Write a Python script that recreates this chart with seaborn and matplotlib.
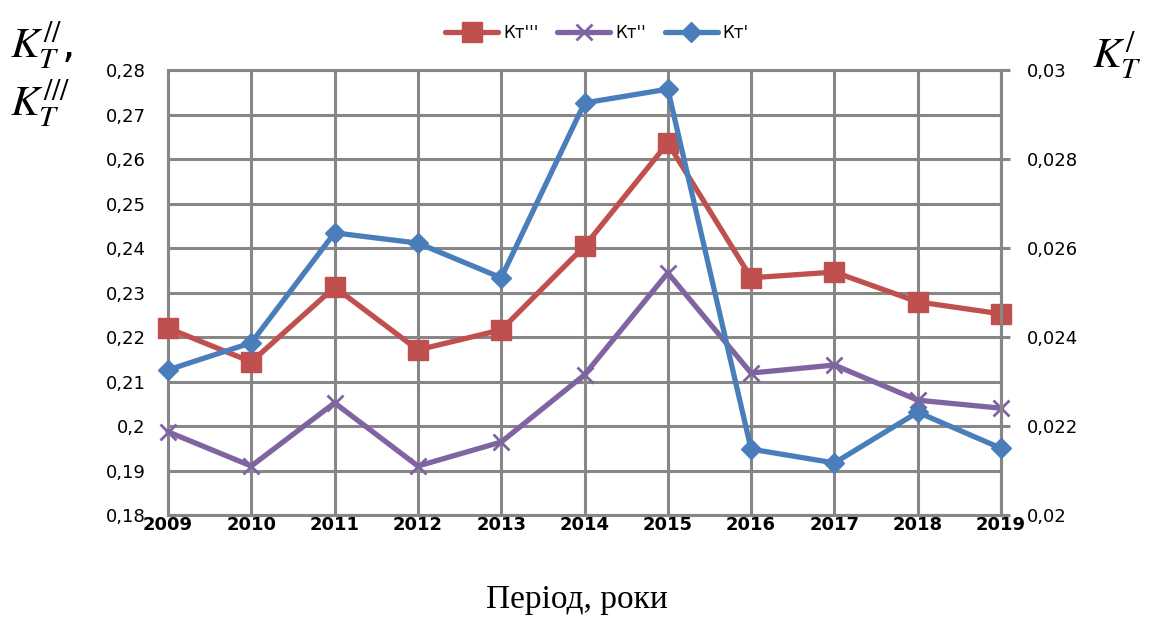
import matplotlib
matplotlib.use("Agg")
import matplotlib.pyplot as plt
import seaborn as sns
import pandas as pd
from matplotlib.ticker import FixedLocator, FuncFormatter

years = ["2009", "2010", "2011", "2012", "2013", "2014", "2015", "2016", "2017", "2018", "2019"]
kt3 = [0.2220, 0.2144, 0.2312, 0.2171, 0.2216, 0.2404, 0.2636, 0.2333, 0.2346, 0.2279, 0.2252]
kt2 = [0.1987, 0.1910, 0.2052, 0.1910, 0.1964, 0.2115, 0.2344, 0.2119, 0.2137, 0.2058, 0.2040]
kt1 = [0.02326, 0.02387, 0.02634, 0.02611, 0.02533, 0.02926, 0.02957, 0.02148, 0.02117, 0.02231, 0.02150]

left_ticks = [0.18, 0.19, 0.20, 0.21, 0.22, 0.23, 0.24, 0.25, 0.26, 0.27, 0.28]
right_ticks = [0.020, 0.022, 0.024, 0.026, 0.028, 0.030]
legend_labels = ["Кт'''", "Кт''", "Кт'"]
xlabel = "Період, роки"

RED = "#C0504D"
PURPLE = "#8064A2"
BLUE = "#4A7EBB"
GRID = "#878787"

sns.set_style("white")
plt.rcParams["font.family"] = ["DejaVu Sans"]
plt.rcParams["mathtext.fontset"] = "stix"
plt.rcParams["text.color"] = "black"
plt.rcParams["xtick.color"] = "black"
plt.rcParams["ytick.color"] = "black"
plt.rcParams["xtick.labelcolor"] = "black"
plt.rcParams["ytick.labelcolor"] = "black"

fig = plt.figure(figsize=(11.49, 6.17), dpi=100)
L, R, B, T = 168, 1001, 515, 70
ax = fig.add_axes([L / 1149, 1 - B / 617, (R - L) / 1149, (B - T) / 617])
ax2 = ax.twinx()

xpos = list(range(len(years)))
df = pd.DataFrame({"x": xpos, "kt3": kt3, "kt2": kt2, "kt1": kt1})

sns.lineplot(data=df, x="x", y="kt3", ax=ax, color=RED, linewidth=3.8,
             marker="s", markersize=14, markeredgecolor=RED, markeredgewidth=1,
             label=legend_labels[0], legend=False, clip_on=False, zorder=3)
sns.lineplot(data=df, x="x", y="kt2", ax=ax, color=PURPLE, linewidth=3.8,
             marker="x", markersize=12, markeredgecolor=PURPLE, markeredgewidth=2,
             label=legend_labels[1], legend=False, clip_on=False, zorder=3)
sns.lineplot(data=df, x="x", y="kt1", ax=ax2, color=BLUE, linewidth=3.8,
             marker="D", markersize=10, markeredgecolor=BLUE, markeredgewidth=1,
             label=legend_labels[2], legend=False, clip_on=False, zorder=3)

fmt = FuncFormatter(lambda v, p: f"{round(v, 4):g}".replace(".", ","))

ax.set_xlim(0, len(years) - 1)
ax.set_ylim(left_ticks[0], left_ticks[-1])
ax.yaxis.set_major_locator(FixedLocator(left_ticks))
ax.yaxis.set_major_formatter(fmt)
ax.set_xticks(xpos)
ax.set_xticklabels(years, fontsize=13, fontweight="bold", color="black")
ax.tick_params(axis="x", length=0, pad=1)
ax.tick_params(axis="y", length=0, pad=16, labelsize=13, labelcolor="black")
ax.grid(True, color=GRID, linewidth=2.2)
ax.set_axisbelow(True)
ax.set_xlabel("")
ax.set_ylabel("")
for s in ax.spines.values():
    s.set_color(GRID)
    s.set_linewidth(2.2)

ax2.set_ylim(right_ticks[0], right_ticks[-1])
ax2.yaxis.set_major_locator(FixedLocator(right_ticks))
ax2.yaxis.set_major_formatter(fmt)
ax2.tick_params(axis="y", direction="out", length=6.5, width=2.2, color=GRID,
                pad=12, labelsize=13, labelcolor="black")
ax2.grid(False)
ax2.set_ylabel("")
for s in ax2.spines.values():
    s.set_visible(False)
ax2.spines["right"].set_visible(True)
ax2.spines["right"].set_color(GRID)
ax2.spines["right"].set_linewidth(2.2)

fig.text(577 / 1149, 1 - 600 / 617, xlabel, family="Liberation Serif",
         fontsize=24, ha="center", va="center", color="black")

fig.text(10 / 1149, 1 - 45 / 617, r"$K_T^{//}$,", fontsize=31, ha="left", va="center", color="black")
fig.text(10 / 1149, 1 - 103 / 617, r"$K_T^{///}$", fontsize=31, ha="left", va="center", color="black")
fig.text(1092 / 1149, 1 - 55 / 617, r"$K_T^{/}$", fontsize=31, ha="left", va="center", color="black")

h1, l1 = ax.get_legend_handles_labels()
h2, l2 = ax2.get_legend_handles_labels()
leg = fig.legend(h1 + h2, l1 + l2, loc="center", bbox_to_anchor=(597 / 1149, 1 - 33 / 617),
                 ncol=3, frameon=False, fontsize=12, handlelength=3.2,
                 handletextpad=0.3, columnspacing=1.1)
for t in leg.get_texts():
    t.set_color("black")

fig.savefig("out.png", dpi=100)
